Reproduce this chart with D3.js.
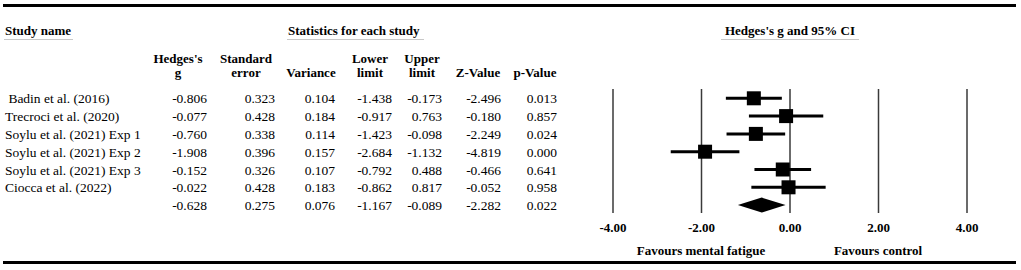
<!DOCTYPE html>
<html>
<head>
<meta charset="utf-8">
<script src="https://cdn.jsdelivr.net/npm/d3@7"></script>
<style>
  body { margin: 0; background: #fff; }
  text { font-family: "Liberation Serif", "Times New Roman", serif; }
</style>
</head>
<body>
<div id="chart"></div>
<script>
// study rows, last row is the pooled estimate
const studies = [" Badin et al. (2016)", "Trecroci et al. (2020)", "Soylu et al. (2021) Exp 1",
  "Soylu et al. (2021) Exp 2", "Soylu et al. (2021) Exp 3", "Ciocca et al. (2022)", ""];
const hedgesG = [-0.806, -0.077, -0.760, -1.908, -0.152, -0.022, -0.628];
const stdErr = [0.323, 0.428, 0.338, 0.396, 0.326, 0.428, 0.275];
const variance = [0.104, 0.184, 0.114, 0.157, 0.107, 0.183, 0.076];
const lowerLim = [-1.438, -0.917, -1.423, -2.684, -0.792, -0.862, -1.167];
const upperLim = [-0.173, 0.763, -0.098, -1.132, 0.488, 0.817, -0.089];
const zValue = [-2.496, -0.180, -2.249, -4.819, -0.466, -0.052, -2.282];
const pValue = [0.013, 0.857, 0.024, 0.000, 0.641, 0.958, 0.022];

const colHeads = [["Hedges's", "g"], ["Standard", "error"], ["", "Variance"], ["Lower", "limit"],
  ["Upper", "limit"], ["", "Z-Value"], ["", "p-Value"]];
const axisTicks = [-4, -2, 0, 2, 4];

const width = 1021, height = 270;
const svg = d3.select("#chart").append("svg")
    .attr("width", width)
    .attr("height", height);

// plain hyphen instead of the unicode minus d3 uses
const fmt3 = d3.format(".3f");
const fmt = v => fmt3(v).replace("\u2212", "-");
const fmt2 = v => d3.format(".2f")(v).replace("\u2212", "-");

const rows = studies.map((s, i) => ({
    name: s, g: hedgesG[i], se: stdErr[i], v: variance[i],
    lo: lowerLim[i], hi: upperLim[i], z: zValue[i], p: pValue[i], summary: i == studies.length - 1
}));

// row positions
const y = d3.scalePoint()
    .domain(d3.range(rows.length))
    .range([98.3, 205.1]);

// thick rules top and bottom
svg.append("line").attr("x1", 3).attr("x2", 1016).attr("y1", 5.5).attr("y2", 5.5)
    .attr("stroke", "#000").attr("stroke-width", 3);
svg.append("line").attr("x1", 3).attr("x2", 1016).attr("y1", 262.5).attr("y2", 262.5)
    .attr("stroke", "#000").attr("stroke-width", 3);

// group headers with light underline
const groups = [
    {label: "Study name", x: 5, anchor: "start", u: [4, 73]},
    {label: "Statistics for each study", x: 288, anchor: "start", u: [287, 424]},
    {label: "Hedges's g and 95% CI", x: 790, anchor: "middle", u: [721, 859]}
];
groups.forEach(gr => {
    svg.append("text").text(gr.label)
        .attr("x", gr.x).attr("y", 35)
        .attr("text-anchor", gr.anchor)
        .style("font-size", "13px").style("font-weight", "bold");
    svg.append("line").attr("x1", gr.u[0]).attr("x2", gr.u[1])
        .attr("y1", 39.5).attr("y2", 39.5)
        .attr("stroke", "#c8c8c8").attr("stroke-width", 1);
});

// column headers
const colCenter = [178, 246, 311, 370, 422, 478, 535];
const colRight = [207, 275, 335, 392, 442, 501, 557];
colHeads.forEach((h, i) => {
    h.forEach((line, j) => {
        svg.append("text").text(line)
            .attr("x", colCenter[i]).attr("y", 63 + j * 13.5)
            .attr("text-anchor", "middle")
            .style("font-size", "13px").style("font-weight", "bold");
    });
});

// table body
const fields = ["g", "se", "v", "lo", "hi", "z", "p"];
rows.forEach((d, i) => {
    svg.append("text").text(d.name)
        .attr("x", 5).attr("y", y(i) + 5)
        .style("font-size", "13.5px").style("white-space", "pre");
    fields.forEach((f, k) => {
        svg.append("text").text(fmt(d[f]))
            .attr("x", colRight[k]).attr("y", y(i) + 5)
            .attr("text-anchor", "end")
            .style("font-size", "13.5px");
    });
});

// forest plot
const x = d3.scaleLinear().domain([-4, 4]).range([612.5, 966.5]);
const gridTop = 89, gridBottom = 213;

const xAxis = d3.axisBottom(x)
    .tickValues(axisTicks)
    .tickFormat(fmt2)
    .tickSizeInner(-(gridBottom - gridTop))
    .tickSizeOuter(0)
    .tickPadding(10);

const ax = svg.append("g")
    .attr("transform", `translate(0, ${gridBottom})`)
    .call(xAxis);
ax.select(".domain").remove();
ax.selectAll(".tick line").attr("stroke", "#3a3a3a").attr("stroke-width", 1.5);
ax.selectAll(".tick text")
    .attr("fill", "#000")
    .style("font-family", "'Liberation Serif', 'Times New Roman', serif")
    .style("font-size", "13px").style("font-weight", "bold");

const studyRows = rows.filter(d => !d.summary);
const pooled = rows[rows.length - 1];

svg.selectAll(".ci")
    .data(studyRows)
    .enter()
    .append("line")
    .attr("class", "ci")
    .attr("x1", d => x(d.lo)).attr("x2", d => x(d.hi))
    .attr("y1", (d, i) => y(i)).attr("y2", (d, i) => y(i))
    .attr("stroke", "#000").attr("stroke-width", 3);

const sq = 14;
svg.selectAll(".box")
    .data(studyRows)
    .enter()
    .append("rect")
    .attr("class", "box")
    .attr("x", d => x(d.g) - sq / 2)
    .attr("y", (d, i) => y(i) - sq / 2)
    .attr("width", sq).attr("height", sq)
    .attr("fill", "#000");

const py = y(rows.length - 1);
svg.append("path")
    .attr("d", `M${x(pooled.lo)},${py} L${x(pooled.g)},${py - 7.5} L${x(pooled.hi)},${py} L${x(pooled.g)},${py + 7.5} Z`)
    .attr("fill", "#000");

// favours labels
svg.append("text").text("Favours mental fatigue")
    .attr("x", x(-2)).attr("y", 255).attr("text-anchor", "middle")
    .style("font-size", "13px").style("font-weight", "bold");
svg.append("text").text("Favours control")
    .attr("x", x(2)).attr("y", 255).attr("text-anchor", "middle")
    .style("font-size", "13px").style("font-weight", "bold");
</script>
</body>
</html>
